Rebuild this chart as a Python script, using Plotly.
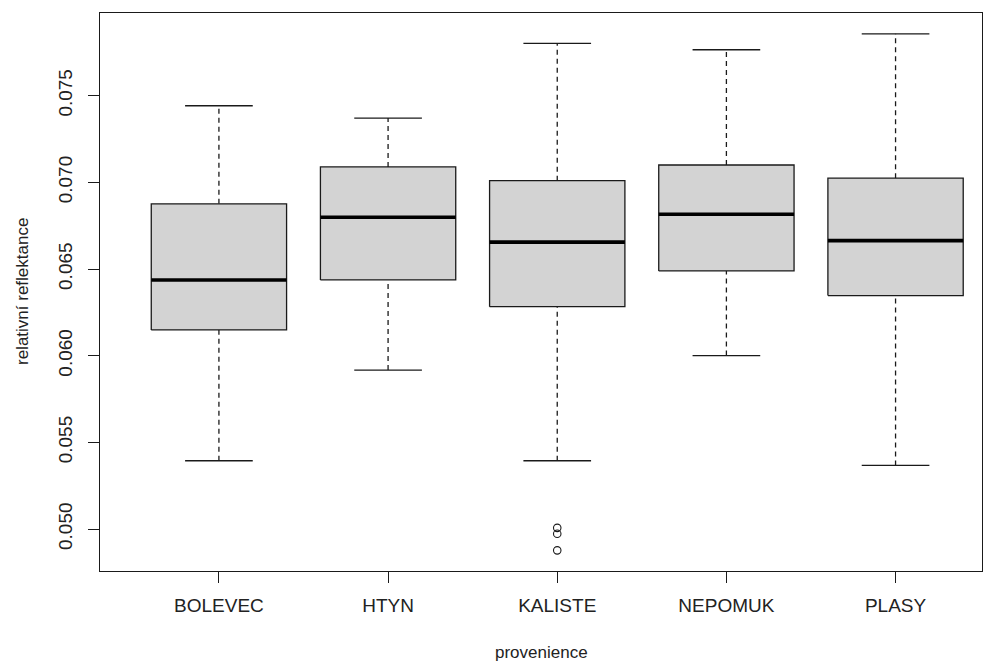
import plotly.graph_objects as go

# Relative reflectance by provenance: box statistics per site
categories = ["BOLEVEC", "HTYN", "KALISTE", "NEPOMUK", "PLASY"]
whisker_low = [0.05394, 0.05917, 0.05394, 0.06001, 0.05367]
q1 = [0.06149, 0.06437, 0.06283, 0.06489, 0.06347]
median = [0.06437, 0.06799, 0.06655, 0.06816, 0.06664]
q3 = [0.06876, 0.07089, 0.07010, 0.07100, 0.07024]
whisker_high = [0.07442, 0.07371, 0.07802, 0.07765, 0.07857]
outlier_site = ["KALISTE", "KALISTE", "KALISTE"]
outlier_value = [0.05007, 0.04973, 0.04877]

y_ticks = [0.050, 0.055, 0.060, 0.065, 0.070, 0.075]

FONT = "Liberation Sans, Arial, sans-serif"
INK = "#1a1a1a"
BOX_HALF = 0.4
CAP_HALF = 0.2

pos = {c: i + 1 for i, c in enumerate(categories)}

box_x, box_y = [], []
med_x, med_y = [], []
wh_x, wh_y = [], []
cap_x, cap_y = [], []
for c, lo, a, m, b, hi in zip(categories, whisker_low, q1, median, q3, whisker_high):
    p = pos[c]
    box_x += [p - BOX_HALF, p + BOX_HALF, p + BOX_HALF, p - BOX_HALF, p - BOX_HALF, None]
    box_y += [a, a, b, b, a, None]
    med_x += [p - BOX_HALF, p + BOX_HALF, None]
    med_y += [m, m, None]
    wh_x += [p, p, None, p, p, None]
    wh_y += [b, hi, None, lo, a, None]
    cap_x += [p - CAP_HALF, p + CAP_HALF, None, p - CAP_HALF, p + CAP_HALF, None]
    cap_y += [hi, hi, None, lo, lo, None]

fig = go.Figure()
fig.add_trace(go.Scatter(x=wh_x, y=wh_y, mode="lines",
                         line=dict(color=INK, width=1.3, dash="5px,4px"),
                         hoverinfo="skip"))
fig.add_trace(go.Scatter(x=cap_x, y=cap_y, mode="lines",
                         line=dict(color=INK, width=1.3), hoverinfo="skip"))
fig.add_trace(go.Scatter(x=box_x, y=box_y, mode="lines", fill="toself",
                         fillcolor="#d3d3d3",
                         line=dict(color=INK, width=1.3), hoverinfo="skip"))
fig.add_trace(go.Scatter(x=med_x, y=med_y, mode="lines",
                         line=dict(color="#000000", width=3.6), hoverinfo="skip"))
fig.add_trace(go.Scatter(x=[pos[c] for c in outlier_site], y=outlier_value,
                         mode="markers",
                         marker=dict(symbol="circle-open", size=7.5, color=INK,
                                     line=dict(width=1.1, color=INK)),
                         hoverinfo="skip"))

fig.update_layout(
    width=1001, height=663,
    margin=dict(l=100, r=19, t=13, b=92),
    paper_bgcolor="white", plot_bgcolor="white",
    showlegend=False,
    font=dict(family=FONT, color="#222222", size=19),
    xaxis=dict(
        range=[0.297, 5.511],
        tickmode="array", tickvals=[pos[c] for c in categories], ticktext=categories,
        ticks="outside", ticklen=11, tickwidth=1.2, tickcolor=INK,
        showline=True, mirror=True, linecolor=INK, linewidth=1.3,
        showgrid=False, zeroline=False,
        tickfont=dict(family=FONT, size=19, color="#222222"),
        ticklabelstandoff=6,
    ),
    yaxis=dict(
        range=[0.04758, 0.07977],
        tickmode="array", tickvals=y_ticks,
        ticktext=[f"{v:.3f}" for v in y_ticks],
        tickangle=-90,
        ticks="outside", ticklen=11, tickwidth=1.2, tickcolor=INK,
        showline=True, mirror=True, linecolor=INK, linewidth=1.3,
        showgrid=False, zeroline=False,
        tickfont=dict(family=FONT, size=19, color="#222222"),
        ticklabelstandoff=8,
    ),
    annotations=[
        dict(text="provenience", xref="paper", yref="paper", x=0.5, y=0,
             yshift=-81, xanchor="center", yanchor="middle", showarrow=False,
             font=dict(family=FONT, size=17, color="#222222")),
        dict(text="relativní reflektance", xref="paper", yref="paper", x=0, y=0.5,
             xshift=-78, xanchor="center", yanchor="middle", textangle=-90,
             showarrow=False, font=dict(family=FONT, size=17, color="#222222")),
    ],
)

fig.write_html("out.html")
